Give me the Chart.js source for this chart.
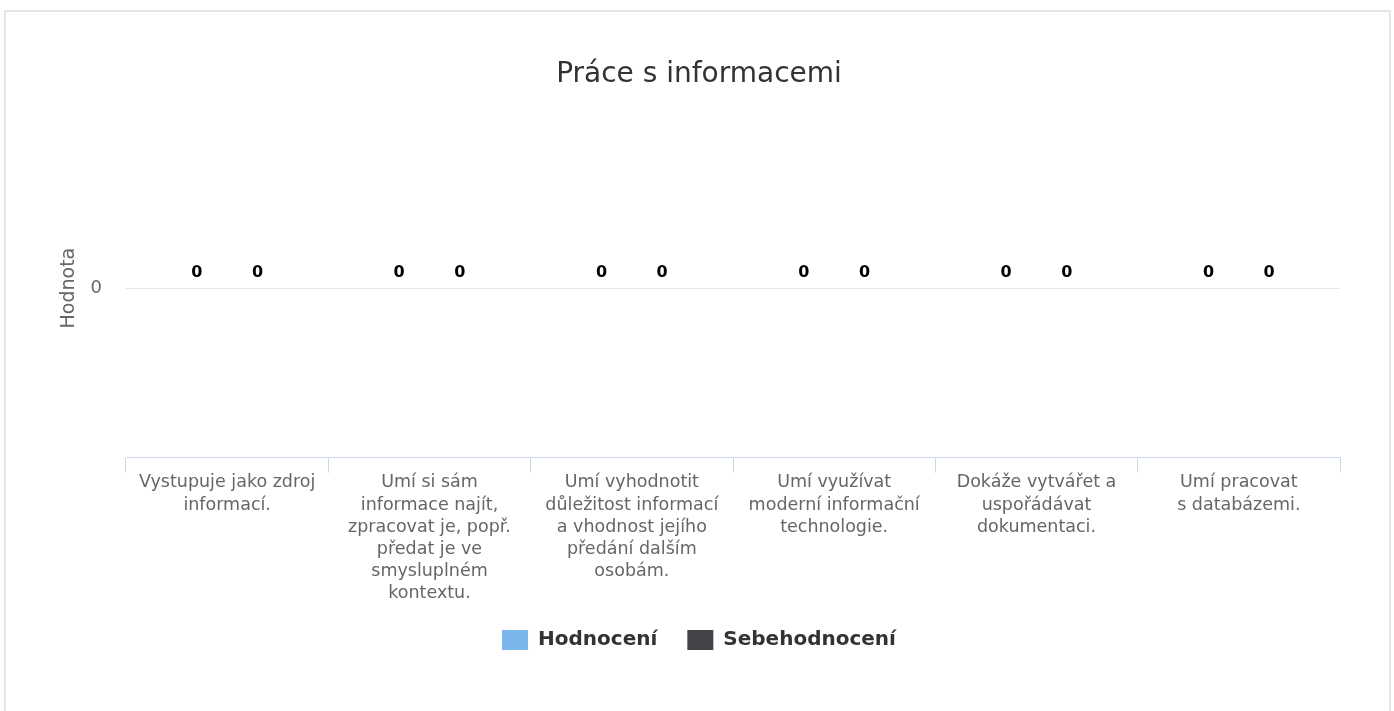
<!DOCTYPE html>
<html>
<head>
<meta charset="utf-8">
<script src="https://cdn.jsdelivr.net/npm/chart.js@4"></script>
<style>
  body { margin: 0; background: #fff; }
  #ramecek {
    position: absolute; left: 4px; top: 10px;
    width: 1383px; height: 699px;
    border: 2px solid #e6e6e6; border-bottom: none;
  }
</style>
</head>
<body>
<div id="ramecek"><canvas id="myChart" width="1383" height="699"></canvas></div>
<script>
const kategorie = [
  ['Vystupuje jako zdroj', 'informací.'],
  ['Umí si sám', 'informace najít,', 'zpracovat je, popř.', 'předat je ve', 'smysluplném', 'kontextu.'],
  ['Umí vyhodnotit', 'důležitost informací', 'a vhodnost jejího', 'předání dalším', 'osobám.'],
  ['Umí využívat', 'moderní informační', 'technologie.'],
  ['Dokáže vytvářet a', 'uspořádávat', 'dokumentaci.'],
  ['Umí pracovat', 's databázemi.']
]
const hodnoceni = [0, 0, 0, 0, 0, 0]
const sebehodnoceni = [0, 0, 0, 0, 0, 0]
const yTicks = [0]

const pismo = "'DejaVu Sans', sans-serif"

// popisky hodnot nad sloupci
const popisky = {
  id: 'popisky',
  afterDatasetsDraw(chart) {
    const ctx = chart.ctx
    ctx.save()
    ctx.font = 'bold 16px ' + pismo
    ctx.textAlign = 'center'
    ctx.textBaseline = 'middle'
    ctx.lineWidth = 2
    ctx.strokeStyle = '#fff'
    ctx.fillStyle = '#000'
    chart.data.datasets.forEach((ds, i) => {
      chart.getDatasetMeta(i).data.forEach((bar, j) => {
        const txt = String(ds.data[j])
        ctx.strokeText(txt, bar.x, bar.y - 15)
        ctx.fillText(txt, bar.x, bar.y - 15)
      })
    })
    ctx.restore()
  }
}

const ctx = document.getElementById('myChart')

var grafico = new Chart(ctx, {
  type: 'bar',
  data: {
    labels: kategorie,
    datasets: [{
      label: 'Hodnocení',
      data: hodnoceni,
      backgroundColor: '#7cb5ec',
      borderWidth: 0,
      categoryPercentage: 0.6,
      barPercentage: 0.8
    }, {
      label: 'Sebehodnocení',
      data: sebehodnoceni,
      backgroundColor: '#434348',
      borderWidth: 0,
      categoryPercentage: 0.6,
      barPercentage: 0.8
    }]
  },
  options: {
    responsive: false,
    animation: false,
    layout: { padding: { left: 52, right: 49, top: 0, bottom: 51 } },
    plugins: {
      title: {
        display: true,
        text: 'Práce s informacemi',
        color: '#333333',
        font: { family: pismo, size: 28, weight: 'normal', lineHeight: 1.2 },
        padding: { top: 46, bottom: 27 }
      },
      legend: {
        position: 'bottom',
        labels: {
          color: '#333333',
          font: { family: pismo, size: 20, weight: 'bold' },
          boxWidth: 26,
          boxHeight: 20,
          padding: 30
        }
      },
      tooltip: { enabled: false }
    },
    scales: {
      x: {
        offset: true,
        afterFit: axis => { axis.height -= 4 },
        grid: {
          offset: true,
          drawOnChartArea: false,
          drawTicks: true,
          tickLength: 15,
          color: '#ccd6eb'
        },
        border: { display: true, color: '#ccd6eb' },
        ticks: {
          color: '#666666',
          font: { family: pismo, size: 17.5, lineHeight: 1.27 },
          padding: -1,
          maxRotation: 0,
          autoSkip: false
        }
      },
      y: {
        min: -1,
        max: 1,
        afterBuildTicks: axis => { axis.ticks = yTicks.map(v => ({ value: v })) },
        afterFit: axis => { axis.width = 68 },
        grid: { color: '#e6e6e6', drawTicks: false },
        border: { display: false },
        ticks: {
          color: '#666666',
          font: { family: pismo, size: 18 },
          padding: 24
        },
        title: {
          display: true,
          text: 'Hodnota',
          color: '#666666',
          font: { family: pismo, size: 19 },
          padding: { top: 0, bottom: 11 }
        }
      }
    }
  },
  plugins: [popisky]
})
</script>
</body>
</html>
